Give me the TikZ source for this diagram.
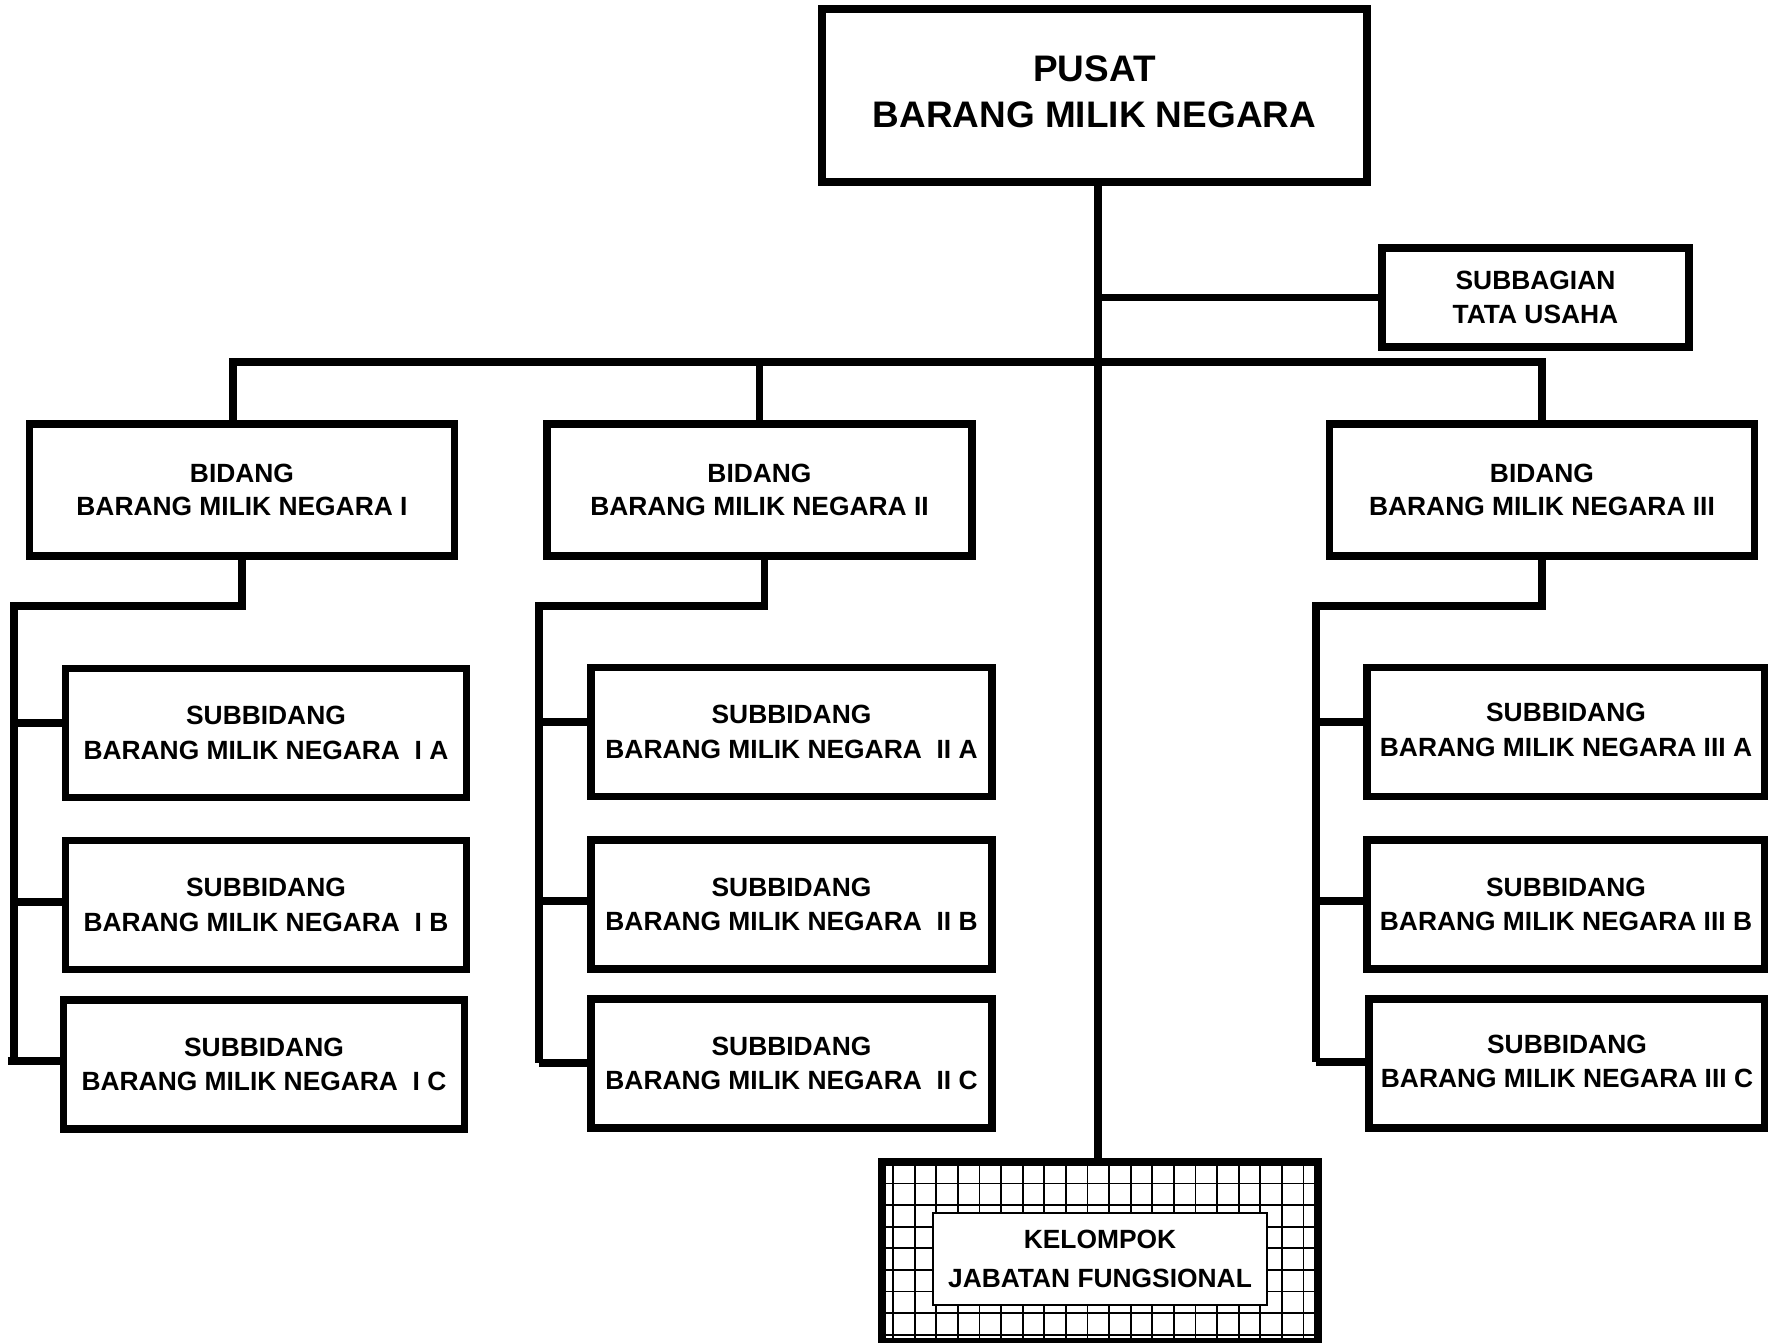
\documentclass[tikz,border=0pt]{standalone}
\usepackage{fontspec}
\setmainfont{Liberation Sans}
\begin{document}
\begin{tikzpicture}[x=0.01cm,y=-0.01cm,
  conn/.style={line width=0.075cm, line join=miter},
  box/.style={draw, line width=0.075cm, fill=white, align=center, inner sep=0pt,
    font=\fontsize{7.5}{9.9}\selectfont\bfseries},
  bidbox/.style={box, minimum width=4.25cm, minimum height=1.32cm,
    font=\fontsize{7.5}{9.3}\selectfont\bfseries},
  subbox/.style={box, minimum width=4.01cm, minimum height=1.29cm},
  gridl/.style={line width=0.018cm, black}]
\useasboundingbox (0,0) rectangle (1768,1343);
\clip (0,0) rectangle (1768,1343);

% top
\node[box, minimum width=5.45cm, minimum height=1.73cm,
  font=\fontsize{10.5}{12.8}\selectfont\bfseries] (top) at (1094.5,95.5)
  {\raisebox{0.08cm}{\begin{tabular}{@{}c@{}}PUSAT\\BARANG MILIK NEGARA\end{tabular}}};
\node[box, minimum width=3.07cm, minimum height=0.99cm,
  font=\fontsize{7.5}{9.6}\selectfont\bfseries] (tu) at (1535.5,297.5)
  {SUBBAGIAN\\TATA USAHA};

% bidang
\node[bidbox] (b1) at (242,490) {BIDANG\\BARANG MILIK NEGARA I};
\node[bidbox] (b2) at (759.5,490) {BIDANG\\BARANG MILIK NEGARA II};
\node[bidbox] (b3) at (1542,490) {BIDANG\\BARANG MILIK NEGARA III};

% subbidang I
\node[subbox] (s1a) at (266,733) {SUBBIDANG\\BARANG MILIK NEGARA\ \ I A};
\node[subbox] (s1b) at (266,905) {SUBBIDANG\\BARANG MILIK NEGARA\ \ I B};
\node[subbox] (s1c) at (264,1064.5) {SUBBIDANG\\BARANG MILIK NEGARA\ \ I C};
% subbidang II
\node[subbox] (s2a) at (791.5,732) {SUBBIDANG\\BARANG MILIK NEGARA\ \ II A};
\node[subbox] (s2b) at (791.5,904.5) {SUBBIDANG\\BARANG MILIK NEGARA\ \ II B};
\node[subbox] (s2c) at (791.5,1063.5) {SUBBIDANG\\BARANG MILIK NEGARA\ \ II C};
% subbidang III
\node[subbox, minimum width=3.98cm] (s3a) at (1566,732) {\raisebox{0.02cm}{\begin{tabular}{@{}c@{}}SUBBIDANG\\BARANG MILIK NEGARA III A\end{tabular}}};
\node[subbox, minimum width=3.98cm] (s3b) at (1566,904.5) {SUBBIDANG\\BARANG MILIK NEGARA III B};
\node[subbox, minimum width=3.96cm] (s3c) at (1567,1063.5) {\raisebox{0.06cm}{\begin{tabular}{@{}c@{}}SUBBIDANG\\BARANG MILIK NEGARA III C\end{tabular}}};

% kelompok jabatan fungsional
\node[draw, line width=0.075cm, minimum width=4.36cm, minimum height=1.80cm, inner sep=0pt] (kel) at (1100,1252) {};
\begin{scope}
  \clip (882,1162) rectangle (1318,1343);
  \foreach \i in {0,...,19} \draw[gridl] ({893+21.6*\i},1162) -- ({893+21.6*\i},1343);
  \foreach \j in {0,...,7} \draw[gridl] (882,{1183.5+21.6*\j}) -- (1318,{1183.5+21.6*\j});
\end{scope}
\node[draw, fill=white, line width=0.022cm, minimum width=3.34cm, minimum height=0.92cm,
  inner sep=0pt, align=center, font=\fontsize{7.5}{11.2}\selectfont\bfseries] (kelt) at (1100,1259)
  {KELOMPOK\\JABATAN FUNGSIONAL};

% coordinates
\coordinate (busy) at (0,362);
\coordinate (j1) at (14,606);
\coordinate (j2) at (539,606);
\coordinate (j3) at (1316,606);
\coordinate (t1a) at (14,723);
\coordinate (t1b) at (14,902);
\coordinate (t1c) at (8,1061);
\coordinate (t2a) at (539,722);
\coordinate (t2b) at (539,901);
\coordinate (t2c) at (539,1063);
\coordinate (t3a) at (1316,722);
\coordinate (t3b) at (1316,901);
\coordinate (t3c) at (1316,1062);
\coordinate (trunk) at (1098,0);

% connectors
\draw[conn] (trunk |- top.south) -- (trunk |- kel.north);
\draw[conn] (trunk |- tu.west) -- (tu.west);
\draw[conn] ([xshift=-0.09cm]b1.north) -- ([xshift=-0.09cm]b1.north |- busy) -- (b3.north |- busy) -- (b3.north);
\draw[conn] (b2.north) -- (b2.north |- busy);

\draw[conn] (b1.south) |- (j1) -- (t1a |- s1c.west);
\draw[conn] (t1a) -- (s1a.west |- t1a);
\draw[conn] (t1b) -- (s1b.west |- t1b);
\draw[conn] (t1c) -- (s1c.west |- t1c);

\draw[conn] ([xshift=0.05cm]b2.south) |- (j2) -- (t2c);
\draw[conn] (t2a) -- (s2a.west |- t2a);
\draw[conn] (t2b) -- (s2b.west |- t2b);
\draw[conn] (t2c) -- (s2c.west |- t2c);

\draw[conn] (b3.south) |- (j3) -- (t3c);
\draw[conn] (t3a) -- (s3a.west |- t3a);
\draw[conn] (t3b) -- (s3b.west |- t3b);
\draw[conn] (t3c) -- (s3c.west |- t3c);
\end{tikzpicture}
\end{document}
